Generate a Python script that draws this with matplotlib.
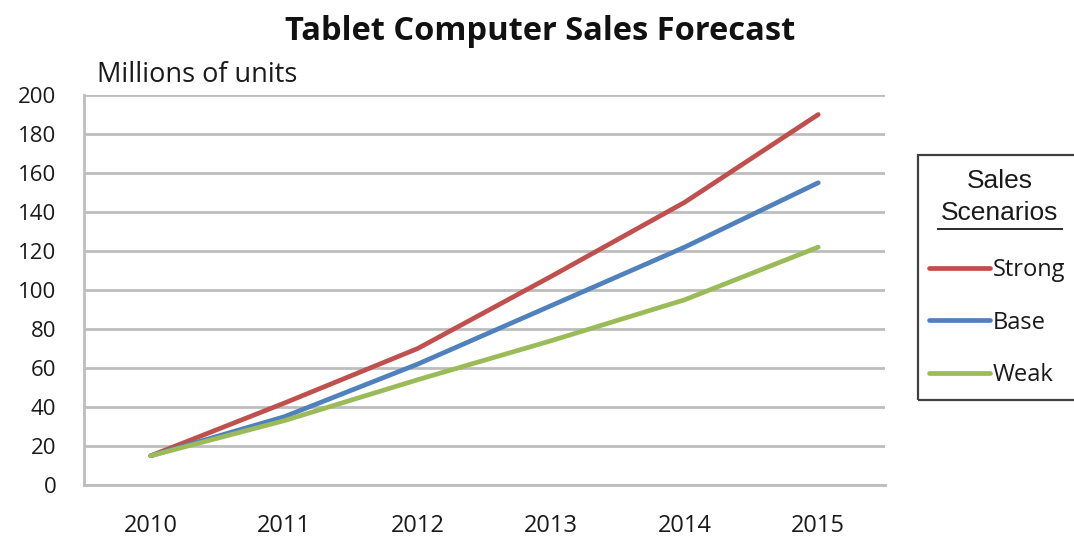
import matplotlib
matplotlib.use("Agg")
import matplotlib.pyplot as plt
from matplotlib.patches import Rectangle
from matplotlib.lines import Line2D

years = ["2010", "2011", "2012", "2013", "2014", "2015"]
strong = [15, 42, 70, 107, 145, 190]
base = [15, 35, 62, 92, 122, 155]
weak = [15, 33, 54, 74, 95, 122]
y_ticks = [0, 20, 40, 60, 80, 100, 120, 140, 160, 180, 200]

CAL = ["Open Sans", "DejaVu Sans"]
ARI = ["Liberation Sans", "DejaVu Sans"]
W, H = 1074, 544

fig = plt.figure(figsize=(W / 100, H / 100), dpi=100)
ax = fig.add_axes([84 / W, 1 - 485 / H, (885 - 84) / W, (485 - 95) / H])

x = range(len(years))
ax.plot(x, strong, color="#C0504D", lw=3.4, label="Strong", solid_capstyle="round")
ax.plot(x, base, color="#4F81BD", lw=3.4, label="Base", solid_capstyle="round")
ax.plot(x, weak, color="#9BBB59", lw=3.4, label="Weak", solid_capstyle="round")

ax.set_xlim(-0.5, len(years) - 0.5)
ax.set_ylim(0, 200)
ax.set_yticks(y_ticks)
ax.set_xticks(list(x))
ax.set_xticklabels(years)
ax.grid(axis="y", color="#BDBDBD", lw=2)
ax.set_axisbelow(True)
for s in ("top", "right"):
    ax.spines[s].set_visible(False)
for s in ("left", "bottom"):
    ax.spines[s].set_color("#BDBDBD")
    ax.spines[s].set_linewidth(2)
ax.tick_params(length=0, colors="#1a1a1a")
ax.tick_params(axis="x", pad=21, labelsize=17)
ax.tick_params(axis="y", pad=20, labelsize=16)
for t in ax.get_xticklabels() + ax.get_yticklabels():
    t.set_family(CAL)

fig.text(540 / W, 1 - 31 / H, "Tablet Computer Sales Forecast", ha="center", va="center",
         fontsize=23.5, fontweight="bold", family=CAL, color="#111111")
fig.text(97 / W, 1 - 75 / H, "Millions of units", ha="left", va="center",
         fontsize=19.5, family=CAL, color="#1a1a1a")

# legend box drawn by hand (underlined title)
fig.patches.append(Rectangle((918 / W, 1 - 400 / H), 200 / W, 245 / H,
                             transform=fig.transFigure, fill=False,
                             edgecolor="#404040", lw=1.6))
fig.text(1000 / W, 1 - 181 / H, "Sales", ha="center", va="center",
         fontsize=19, family=ARI, color="#1a1a1a")
fig.text(1000 / W, 1 - 213 / H, "Scenarios", ha="center", va="center",
         fontsize=19, family=ARI, color="#1a1a1a")
fig.lines.append(Line2D([938 / W, 1062 / W], [1 - 229 / H, 1 - 229 / H],
                        transform=fig.transFigure, color="#1a1a1a", lw=1.3))

leg = ax.legend(loc="upper left", bbox_to_anchor=(917 / W, 1 - 246 / H),
                bbox_transform=fig.transFigure, frameon=False,
                prop={"family": CAL, "size": 17}, handlelength=2.6,
                handletextpad=0.1, labelspacing=1.22, borderpad=0)
for t in leg.get_texts():
    t.set_color("#1a1a1a")

fig.savefig("out.png", dpi=100)
